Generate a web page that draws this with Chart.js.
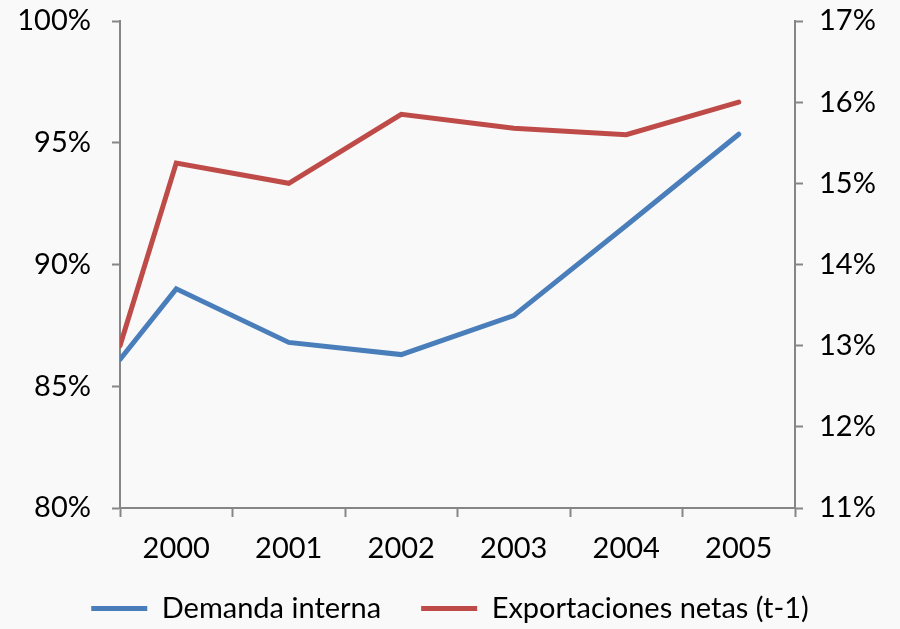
<!DOCTYPE html>
<html>
<head>
<meta charset="utf-8">
<script src="https://cdn.jsdelivr.net/npm/chart.js@4/dist/chart.umd.min.js"></script>
<style>
  html, body { margin: 0; padding: 0; background: #f9f9f9; }
  #wrap { width: 900px; height: 629px; }
</style>
</head>
<body>
<div id="wrap"><canvas id="chart" width="900" height="629"></canvas></div>
<script>
// datos
const years = [2000, 2001, 2002, 2003, 2004, 2005];
const pointX = [1999.5, 2000, 2001, 2002, 2003, 2004, 2005];   // primer punto en el borde del eje
const demandaInterna = [86.1, 89.0, 86.8, 86.3, 87.9, 91.6, 95.35];
const exportNetas = [13.0, 15.25, 15.0, 15.85, 15.68, 15.6, 16.0];
const leftTicks = [80, 85, 90, 95, 100];
const rightTicks = [11, 12, 13, 14, 15, 16, 17];

const AXIS = '#868686';
const FONT = { family: 'Lato, "Open Sans", sans-serif', size: 29 };

const toPts = (vals) => vals.map((v, i) => ({ x: pointX[i], y: v }));

// marcas del eje x entre categorías
const xTicks = [];
years.forEach(y => { xTicks.push(y - 0.5, y); });
xTicks.push(years[years.length - 1] + 0.5);

// sube un poco la leyenda (el padding de la leyenda es horizontal y vertical a la vez)
const legendShift = {
  id: 'legendShift',
  afterLayout(chart) {
    chart.legend.top -= 12;
    chart.legend.bottom -= 12;
  }
};

const noTopPad = s => { s.paddingTop = 0; s.paddingBottom = 0; };

new Chart(document.getElementById('chart').getContext('2d'), {
  type: 'line',
  data: {
    datasets: [{
      label: 'Demanda interna',
      data: toPts(demandaInterna),
      yAxisID: 'y',
      borderColor: '#4A7EBB',
      backgroundColor: '#4A7EBB',
      borderWidth: 5,
      borderCapStyle: 'round',
      pointRadius: 0,
      tension: 0
    }, {
      label: 'Exportaciones netas (t-1)',
      data: toPts(exportNetas),
      yAxisID: 'y1',
      borderColor: '#BE4B48',
      backgroundColor: '#BE4B48',
      borderWidth: 5,
      borderCapStyle: 'round',
      pointRadius: 0,
      tension: 0
    }]
  },
  plugins: [legendShift],
  options: {
    responsive: false,
    animation: false,
    layout: { padding: { top: 21, left: 0, right: 0, bottom: -16 } },
    plugins: {
      tooltip: { enabled: false },
      legend: {
        position: 'bottom',
        labels: {
          usePointStyle: true,
          pointStyle: 'line',
          pointStyleWidth: 56,
          padding: 40,
          color: '#000',
          font: FONT
        }
      }
    },
    scales: {
      x: {
        type: 'linear',
        min: years[0] - 0.5,
        max: years[years.length - 1] + 0.5,
        afterBuildTicks: s => { s.ticks = xTicks.map(v => ({ value: v })); },
        afterFit: s => { s.height = 58; },
        ticks: {
          autoSkip: false, maxRotation: 0, padding: 14,
          color: '#000', font: FONT,
          callback: v => Number.isInteger(v) ? String(v) : ''
        },
        grid: {
          drawOnChartArea: false, tickLength: 9, tickWidth: 2,
          tickColor: c => Number.isInteger(c.tick && c.tick.value) ? 'rgba(0,0,0,0)' : AXIS
        },
        border: { color: AXIS, width: 2 }
      },
      y: {
        position: 'left',
        min: 80, max: 100,
        afterBuildTicks: s => { s.ticks = leftTicks.map(v => ({ value: v })); },
        afterFit: s => { s.width = 120; noTopPad(s); },
        ticks: { color: '#000', font: FONT, padding: 21, callback: v => v + '%' },
        grid: { drawOnChartArea: false, tickLength: 8, tickWidth: 2, tickColor: AXIS },
        border: { color: AXIS, width: 2 }
      },
      y1: {
        position: 'right',
        min: 11, max: 17,
        afterBuildTicks: s => { s.ticks = rightTicks.map(v => ({ value: v })); },
        afterFit: s => { s.width = 105; noTopPad(s); },
        ticks: { color: '#000', font: FONT, padding: 16, callback: v => v + '%' },
        grid: { drawOnChartArea: false, tickLength: 8, tickWidth: 2, tickColor: AXIS },
        border: { color: AXIS, width: 2 }
      }
    }
  }
});
</script>
</body>
</html>
